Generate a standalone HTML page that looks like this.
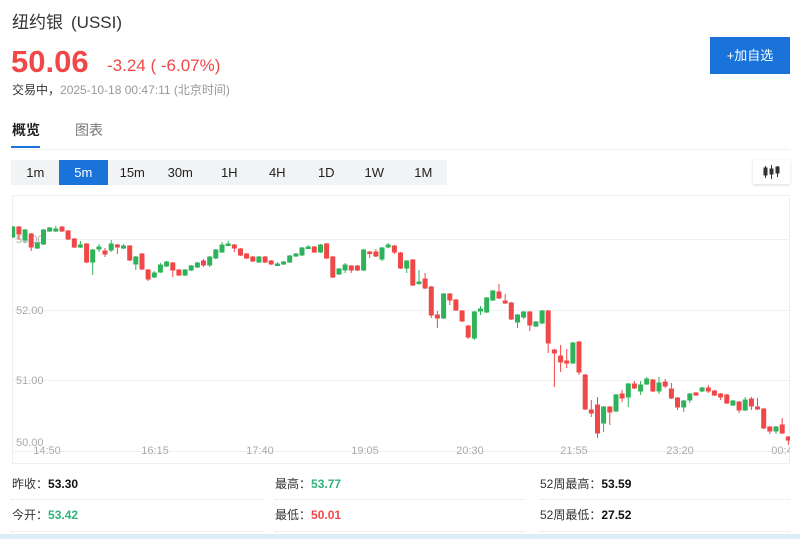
<!DOCTYPE html>
<html><head><meta charset="utf-8">
<style>
*{margin:0;padding:0;box-sizing:border-box}
body{width:800px;height:539px;overflow:hidden;background:#fff;position:relative;font-family:"Liberation Sans","Noto Sans CJK SC",sans-serif;color:#333}
.a{position:absolute;white-space:nowrap}
.tf{position:absolute;top:160px;height:25px;width:48.5px;text-align:center;line-height:25px;font-size:13px;color:#222}
.st{position:absolute;font-size:12px;color:#333;line-height:16px}
.st b{color:#111}
.sep{position:absolute;height:0;border-top:1px dotted #e2e2e2}
</style></head><body>
<div class="a" style="left:12px;top:11px;font-size:17px;line-height:24px;color:#333">纽约银<span style="margin-left:8px">(USSI)</span></div>
<div class="a" style="left:11px;top:44px;font-size:31px;line-height:36px;font-weight:bold;color:#f04848">50.06</div>
<div class="a" style="left:107px;top:56px;font-size:17px;line-height:20px;color:#f04848">-3.24 ( -6.07%)</div>
<div class="a" style="left:12px;top:82px;font-size:12px;line-height:16px;color:#999"><span style="color:#333">交易中，</span>2025-10-18 00:47:11 (北京时间)</div>
<div class="a" style="left:710px;top:37px;width:80px;height:37px;background:#1a73d9;color:#fff;font-size:13px;line-height:37px;text-align:center">+加自选</div>
<div class="a" style="left:12px;top:121px;font-size:14px;line-height:18px;font-weight:bold;color:#222">概览</div>
<div class="a" style="left:75px;top:121px;font-size:14px;line-height:18px;color:#777">图表</div>
<div class="a" style="left:11px;top:146px;width:29px;height:2px;background:#1a73d9"></div>
<div class="a" style="left:12px;top:149px;width:778px;height:1px;background:#f0f0f0"></div>
<div class="a" style="left:11px;top:160px;width:436px;height:25px;background:#f2f3f5"></div>
<div class="tf" style="left:11px">1m</div>
<div class="tf" style="left:59px;background:#1a73d9;color:#fff">5m</div>
<div class="tf" style="left:108px">15m</div>
<div class="tf" style="left:156px">30m</div>
<div class="tf" style="left:205px">1H</div>
<div class="tf" style="left:253px">4H</div>
<div class="tf" style="left:302px">1D</div>
<div class="tf" style="left:350px">1W</div>
<div class="tf" style="left:399px">1M</div>
<div class="a" style="left:753px;top:160px;width:37px;height:24px;background:#fff;box-shadow:0 1px 3px rgba(0,0,0,0.15)"></div>
<svg class="a" style="left:0;top:0" width="800" height="539" viewBox="0 0 800 539">
<defs><clipPath id="cp"><rect x="12" y="196" width="778" height="267"/></clipPath></defs>
<g fill="#333" stroke="#333" stroke-width="1">
<line x1="765.5" y1="166" x2="765.5" y2="178"/><rect x="764" y="168" width="3" height="7"/>
<line x1="771.5" y1="165" x2="771.5" y2="179"/><rect x="770" y="169" width="3" height="5"/>
<line x1="777.5" y1="166" x2="777.5" y2="177"/><rect x="776" y="167" width="3" height="6"/>
</g>
<line x1="12" y1="195.5" x2="790" y2="195.5" stroke="#efefef"/>
<line x1="12.5" y1="196" x2="12.5" y2="463" stroke="#eee"/>
<line x1="789.5" y1="196" x2="789.5" y2="463" stroke="#eee"/>
<line x1="12" y1="463.5" x2="790" y2="463.5" stroke="#eee"/>
<g stroke="#f0f0f0" stroke-width="1">
<line x1="13" y1="239.5" x2="789" y2="239.5"/>
<line x1="13" y1="310.5" x2="789" y2="310.5"/>
<line x1="13" y1="380.5" x2="789" y2="380.5"/>
<line x1="13" y1="451.5" x2="789" y2="451.5"/>
</g>
<g font-family="Liberation Sans, sans-serif" font-size="11" fill="#aaa">
<text x="16" y="243">53.00</text>
<text x="16" y="314">52.00</text>
<text x="16" y="384">51.00</text>
<text x="16" y="446">50.00</text>
</g>
<g font-family="Liberation Sans, sans-serif" font-size="11" fill="#aaa" text-anchor="middle" clip-path="url(#cp)">
<text x="47" y="454">14:50</text>
<text x="155" y="454">16:15</text>
<text x="260" y="454">17:40</text>
<text x="365" y="454">19:05</text>
<text x="470" y="454">20:30</text>
<text x="574" y="454">21:55</text>
<text x="680" y="454">23:20</text>
<text x="785" y="454">00:45</text>
</g>
<g clip-path="url(#cp)">
<g stroke="#2fb35a" fill="#2fb35a">
<line x1="12.7" y1="226" x2="12.7" y2="238"/><rect x="10.7" y="227" width="4" height="10"/>
<line x1="25" y1="229" x2="25" y2="242"/><rect x="23" y="230" width="4" height="10"/>
<line x1="37.3" y1="242" x2="37.3" y2="249"/><rect x="35.3" y="243" width="4" height="5"/>
<line x1="43.5" y1="229" x2="43.5" y2="245"/><rect x="41.5" y="230" width="4" height="14"/>
<line x1="49.6" y1="227" x2="49.6" y2="232"/><rect x="47.6" y="228" width="4" height="3"/>
<line x1="55.8" y1="226" x2="55.8" y2="232"/><rect x="53.8" y="229" width="4" height="2"/>
<line x1="80.4" y1="241" x2="80.4" y2="248"/><rect x="78.4" y="245" width="4" height="2"/>
<line x1="92.7" y1="249" x2="92.7" y2="275"/><rect x="90.7" y="250" width="4" height="12"/>
<line x1="98.9" y1="244" x2="98.9" y2="252"/><rect x="96.9" y="247" width="4" height="2"/>
<line x1="111.2" y1="240" x2="111.2" y2="252"/><rect x="109.2" y="244" width="4" height="6"/>
<line x1="123.5" y1="244" x2="123.5" y2="249"/><rect x="121.5" y="246" width="4" height="2"/>
<line x1="135.8" y1="256" x2="135.8" y2="270"/><rect x="133.8" y="257" width="4" height="7"/>
<line x1="154.3" y1="271" x2="154.3" y2="278"/><rect x="152.3" y="273" width="4" height="4"/>
<line x1="160.4" y1="263" x2="160.4" y2="273"/><rect x="158.4" y="265" width="4" height="7"/>
<line x1="166.6" y1="261" x2="166.6" y2="267"/><rect x="164.6" y="262" width="4" height="4"/>
<line x1="185.1" y1="269" x2="185.1" y2="276"/><rect x="183.1" y="270" width="4" height="5"/>
<line x1="191.2" y1="265" x2="191.2" y2="271"/><rect x="189.2" y="266" width="4" height="4"/>
<line x1="197.4" y1="262" x2="197.4" y2="268"/><rect x="195.4" y="263" width="4" height="4"/>
<line x1="209.7" y1="256" x2="209.7" y2="267"/><rect x="207.7" y="257" width="4" height="8"/>
<line x1="215.8" y1="249" x2="215.8" y2="259"/><rect x="213.8" y="250" width="4" height="8"/>
<line x1="222" y1="242" x2="222" y2="253"/><rect x="220" y="245" width="4" height="7"/>
<line x1="228.2" y1="241" x2="228.2" y2="246"/><rect x="226.2" y="244" width="4" height="1.5"/>
<line x1="258.9" y1="256" x2="258.9" y2="263"/><rect x="256.9" y="257" width="4" height="5"/>
<line x1="277.4" y1="262" x2="277.4" y2="266"/><rect x="275.4" y="264" width="4" height="1.5"/>
<line x1="283.6" y1="261" x2="283.6" y2="265"/><rect x="281.6" y="262" width="4" height="2"/>
<line x1="289.7" y1="255" x2="289.7" y2="263"/><rect x="287.7" y="256" width="4" height="6"/>
<line x1="295.9" y1="253" x2="295.9" y2="257"/><rect x="293.9" y="254" width="4" height="2"/>
<line x1="302" y1="247" x2="302" y2="256"/><rect x="300" y="248" width="4" height="7"/>
<line x1="308.2" y1="245" x2="308.2" y2="249"/><rect x="306.2" y="247" width="4" height="1.5"/>
<line x1="320.5" y1="244" x2="320.5" y2="253"/><rect x="318.5" y="245" width="4" height="7"/>
<line x1="339" y1="268" x2="339" y2="275"/><rect x="337" y="269" width="4" height="5"/>
<line x1="345.1" y1="263" x2="345.1" y2="273"/><rect x="343.1" y="265" width="4" height="5"/>
<line x1="363.6" y1="249" x2="363.6" y2="271"/><rect x="361.6" y="250" width="4" height="20"/>
<line x1="382" y1="247" x2="382" y2="261"/><rect x="380" y="248" width="4" height="11"/>
<line x1="388.2" y1="243" x2="388.2" y2="248"/><rect x="386.2" y="245" width="4" height="2"/>
<line x1="406.7" y1="260" x2="406.7" y2="273"/><rect x="404.7" y="261" width="4" height="7"/>
<line x1="419" y1="270" x2="419" y2="285"/><rect x="417" y="282" width="4" height="1.5"/>
<line x1="443.6" y1="293" x2="443.6" y2="319"/><rect x="441.6" y="294" width="4" height="24"/>
<line x1="474.4" y1="311" x2="474.4" y2="340"/><rect x="472.4" y="312" width="4" height="26"/>
<line x1="480.5" y1="306" x2="480.5" y2="315"/><rect x="478.5" y="309" width="4" height="2"/>
<line x1="486.7" y1="297" x2="486.7" y2="313"/><rect x="484.7" y="298" width="4" height="14"/>
<line x1="492.8" y1="290" x2="492.8" y2="301"/><rect x="490.8" y="291" width="4" height="9"/>
<line x1="517.5" y1="314" x2="517.5" y2="328"/><rect x="515.5" y="315" width="4" height="7"/>
<line x1="523.6" y1="311" x2="523.6" y2="319"/><rect x="521.6" y="312" width="4" height="5"/>
<line x1="535.9" y1="321" x2="535.9" y2="327"/><rect x="533.9" y="322" width="4" height="4"/>
<line x1="542.1" y1="310" x2="542.1" y2="324"/><rect x="540.1" y="311" width="4" height="12"/>
<line x1="572.9" y1="342" x2="572.9" y2="364"/><rect x="570.9" y="343" width="4" height="20"/>
<line x1="603.6" y1="406" x2="603.6" y2="432"/><rect x="601.6" y="407" width="4" height="16"/>
<line x1="616" y1="394" x2="616" y2="412"/><rect x="614" y="395" width="4" height="16"/>
<line x1="628.3" y1="383" x2="628.3" y2="407"/><rect x="626.3" y="384" width="4" height="13"/>
<line x1="640.6" y1="381" x2="640.6" y2="395"/><rect x="638.6" y="385" width="4" height="6"/>
<line x1="646.7" y1="377" x2="646.7" y2="385"/><rect x="644.7" y="379" width="4" height="5"/>
<line x1="659" y1="377" x2="659" y2="394"/><rect x="657" y="383" width="4" height="8"/>
<line x1="683.7" y1="400" x2="683.7" y2="412"/><rect x="681.7" y="401" width="4" height="6"/>
<line x1="689.8" y1="393" x2="689.8" y2="403"/><rect x="687.8" y="394" width="4" height="6"/>
<line x1="702.1" y1="387" x2="702.1" y2="392"/><rect x="700.1" y="388" width="4" height="3"/>
<line x1="732.9" y1="400" x2="732.9" y2="406"/><rect x="730.9" y="401" width="4" height="4"/>
<line x1="745.2" y1="397" x2="745.2" y2="411"/><rect x="743.2" y="400" width="4" height="10"/>
<line x1="776" y1="426" x2="776" y2="434"/><rect x="774" y="427" width="4" height="4"/>
</g>
<g stroke="#f04848" fill="#f04848">
<line x1="18.9" y1="226" x2="18.9" y2="240"/><rect x="16.9" y="227" width="4" height="7"/>
<line x1="31.2" y1="233" x2="31.2" y2="251"/><rect x="29.2" y="234" width="4" height="13"/>
<line x1="62" y1="226" x2="62" y2="232"/><rect x="60" y="227" width="4" height="4"/>
<line x1="68.1" y1="230" x2="68.1" y2="240"/><rect x="66.1" y="231" width="4" height="8"/>
<line x1="74.3" y1="238" x2="74.3" y2="248"/><rect x="72.3" y="239" width="4" height="8"/>
<line x1="86.6" y1="243" x2="86.6" y2="263"/><rect x="84.6" y="244" width="4" height="18"/>
<line x1="105" y1="248" x2="105" y2="257"/><rect x="103" y="251" width="4" height="3"/>
<line x1="117.4" y1="244" x2="117.4" y2="254"/><rect x="115.4" y="245" width="4" height="2"/>
<line x1="129.7" y1="245" x2="129.7" y2="261"/><rect x="127.7" y="246" width="4" height="14"/>
<line x1="142" y1="253" x2="142" y2="270"/><rect x="140" y="254" width="4" height="15"/>
<line x1="148.1" y1="269" x2="148.1" y2="281"/><rect x="146.1" y="270" width="4" height="9"/>
<line x1="172.8" y1="262" x2="172.8" y2="277"/><rect x="170.8" y="263" width="4" height="7"/>
<line x1="178.9" y1="269" x2="178.9" y2="276"/><rect x="176.9" y="270" width="4" height="5"/>
<line x1="203.5" y1="259" x2="203.5" y2="267"/><rect x="201.5" y="261" width="4" height="4"/>
<line x1="234.3" y1="244" x2="234.3" y2="252"/><rect x="232.3" y="245" width="4" height="3"/>
<line x1="240.5" y1="248" x2="240.5" y2="256"/><rect x="238.5" y="249" width="4" height="6"/>
<line x1="246.6" y1="253" x2="246.6" y2="259"/><rect x="244.6" y="254" width="4" height="4"/>
<line x1="252.8" y1="256" x2="252.8" y2="262"/><rect x="250.8" y="257" width="4" height="4"/>
<line x1="265.1" y1="256" x2="265.1" y2="263"/><rect x="263.1" y="257" width="4" height="5"/>
<line x1="271.2" y1="260" x2="271.2" y2="265"/><rect x="269.2" y="261" width="4" height="3"/>
<line x1="314.3" y1="246" x2="314.3" y2="253"/><rect x="312.3" y="247" width="4" height="5"/>
<line x1="326.6" y1="243" x2="326.6" y2="259"/><rect x="324.6" y="244" width="4" height="14"/>
<line x1="332.8" y1="256" x2="332.8" y2="278"/><rect x="330.8" y="257" width="4" height="20"/>
<line x1="351.3" y1="265" x2="351.3" y2="273"/><rect x="349.3" y="266" width="4" height="4"/>
<line x1="357.4" y1="265" x2="357.4" y2="271"/><rect x="355.4" y="266" width="4" height="4"/>
<line x1="369.7" y1="251" x2="369.7" y2="258"/><rect x="367.7" y="252" width="4" height="1.5"/>
<line x1="375.9" y1="249" x2="375.9" y2="257"/><rect x="373.9" y="252" width="4" height="4"/>
<line x1="394.4" y1="245" x2="394.4" y2="254"/><rect x="392.4" y="246" width="4" height="6"/>
<line x1="400.5" y1="252" x2="400.5" y2="269"/><rect x="398.5" y="253" width="4" height="15"/>
<line x1="412.8" y1="259" x2="412.8" y2="286"/><rect x="410.8" y="260" width="4" height="25"/>
<line x1="425.1" y1="273" x2="425.1" y2="289"/><rect x="423.1" y="279" width="4" height="9"/>
<line x1="431.3" y1="286" x2="431.3" y2="318"/><rect x="429.3" y="287" width="4" height="28"/>
<line x1="437.4" y1="311" x2="437.4" y2="328"/><rect x="435.4" y="315" width="4" height="3"/>
<line x1="449.8" y1="293" x2="449.8" y2="305"/><rect x="447.8" y="294" width="4" height="6"/>
<line x1="455.9" y1="299" x2="455.9" y2="311"/><rect x="453.9" y="300" width="4" height="10"/>
<line x1="462.1" y1="310" x2="462.1" y2="322"/><rect x="460.1" y="311" width="4" height="10"/>
<line x1="468.2" y1="325" x2="468.2" y2="339"/><rect x="466.2" y="326" width="4" height="11"/>
<line x1="499" y1="284" x2="499" y2="299"/><rect x="497" y="292" width="4" height="6"/>
<line x1="505.2" y1="294" x2="505.2" y2="304"/><rect x="503.2" y="301" width="4" height="2"/>
<line x1="511.3" y1="302" x2="511.3" y2="320"/><rect x="509.3" y="303" width="4" height="16"/>
<line x1="529.8" y1="311" x2="529.8" y2="331"/><rect x="527.8" y="312" width="4" height="13"/>
<line x1="548.2" y1="310" x2="548.2" y2="353"/><rect x="546.2" y="311" width="4" height="32"/>
<line x1="554.4" y1="349" x2="554.4" y2="387"/><rect x="552.4" y="350" width="4" height="3"/>
<line x1="560.6" y1="345" x2="560.6" y2="372"/><rect x="558.6" y="356" width="4" height="6"/>
<line x1="566.7" y1="349" x2="566.7" y2="368"/><rect x="564.7" y="361" width="4" height="2"/>
<line x1="579" y1="341" x2="579" y2="375"/><rect x="577" y="342" width="4" height="30"/>
<line x1="585.2" y1="374" x2="585.2" y2="410"/><rect x="583.2" y="375" width="4" height="34"/>
<line x1="591.3" y1="400" x2="591.3" y2="417"/><rect x="589.3" y="410" width="4" height="3"/>
<line x1="597.5" y1="397" x2="597.5" y2="438"/><rect x="595.5" y="405" width="4" height="28"/>
<line x1="609.8" y1="406" x2="609.8" y2="425"/><rect x="607.8" y="407" width="4" height="5"/>
<line x1="622.1" y1="390" x2="622.1" y2="402"/><rect x="620.1" y="394" width="4" height="4"/>
<line x1="634.4" y1="381" x2="634.4" y2="389"/><rect x="632.4" y="384" width="4" height="4"/>
<line x1="652.9" y1="379" x2="652.9" y2="392"/><rect x="650.9" y="380" width="4" height="11"/>
<line x1="665.2" y1="379" x2="665.2" y2="388"/><rect x="663.2" y="382" width="4" height="4"/>
<line x1="671.4" y1="383" x2="671.4" y2="399"/><rect x="669.4" y="389" width="4" height="9"/>
<line x1="677.5" y1="397" x2="677.5" y2="410"/><rect x="675.5" y="398" width="4" height="9"/>
<line x1="696" y1="392" x2="696" y2="396"/><rect x="694" y="393" width="4" height="2"/>
<line x1="708.3" y1="385" x2="708.3" y2="393"/><rect x="706.3" y="388" width="4" height="3"/>
<line x1="714.4" y1="390" x2="714.4" y2="396"/><rect x="712.4" y="391" width="4" height="4"/>
<line x1="720.6" y1="393" x2="720.6" y2="400"/><rect x="718.6" y="394" width="4" height="3"/>
<line x1="726.8" y1="394" x2="726.8" y2="404"/><rect x="724.8" y="395" width="4" height="8"/>
<line x1="739.1" y1="401" x2="739.1" y2="413"/><rect x="737.1" y="402" width="4" height="8"/>
<line x1="751.4" y1="397" x2="751.4" y2="410"/><rect x="749.4" y="399" width="4" height="7"/>
<line x1="757.5" y1="398" x2="757.5" y2="410"/><rect x="755.5" y="407" width="4" height="2"/>
<line x1="763.7" y1="408" x2="763.7" y2="429"/><rect x="761.7" y="409" width="4" height="19"/>
<line x1="769.8" y1="426" x2="769.8" y2="434"/><rect x="767.8" y="427" width="4" height="4"/>
<line x1="782.2" y1="418" x2="782.2" y2="434"/><rect x="780.2" y="425" width="4" height="8"/>
<line x1="788.3" y1="436" x2="788.3" y2="445"/><rect x="786.3" y="437" width="4" height="3"/>
</g>
</g>
</svg>
<div class="st" style="left:12px;top:476px">昨收：<b>53.30</b></div>
<div class="st" style="left:275px;top:476px">最高：<b style="color:#2fb37c">53.77</b></div>
<div class="st" style="left:540px;top:476px">52周最高：<b>53.59</b></div>
<div class="st" style="left:12px;top:507px">今开：<b style="color:#2fb37c">53.42</b></div>
<div class="st" style="left:275px;top:507px">最低：<b style="color:#f04848">50.01</b></div>
<div class="st" style="left:540px;top:507px">52周最低：<b>27.52</b></div>
<div class="sep" style="left:11px;top:499px;width:252px"></div>
<div class="sep" style="left:275px;top:499px;width:250px"></div>
<div class="sep" style="left:540px;top:499px;width:250px"></div>
<div class="sep" style="left:11px;top:531px;width:252px"></div>
<div class="sep" style="left:275px;top:531px;width:250px"></div>
<div class="sep" style="left:540px;top:531px;width:250px"></div>
<div class="a" style="left:0;top:534px;width:800px;height:5px;background:#dcedf5"></div>
</body></html>
